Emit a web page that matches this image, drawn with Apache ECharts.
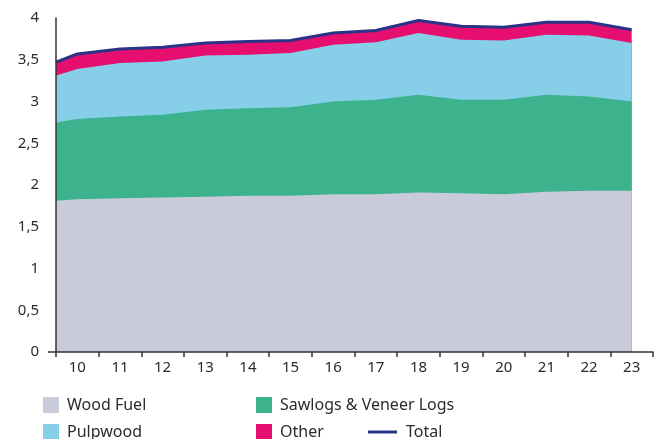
<!DOCTYPE html>
<html>
<head>
<meta charset="utf-8">
<script src="https://cdn.jsdelivr.net/npm/echarts@6/dist/echarts.min.js"></script>
<style>
  html, body { margin: 0; padding: 0; background: #ffffff; }
  #chart { width: 667px; height: 439px; }
</style>
</head>
<body>
<div id="chart"></div>
<script>
// Year labels on the axis (20xx), drawn between tick marks
const yearLabels = ['10', '11', '12', '13', '14', '15', '16', '17', '18', '19', '20', '21', '22', '23'];
// Position of each data point along the year scale; the first point sits at the left edge of the plot
const xPos = [9.5, 10, 11, 12, 13, 14, 15, 16, 17, 18, 19, 20, 21, 22, 23];

// Removals by assortment (billion m³)
const woodFuel = [1.81, 1.83, 1.84, 1.85, 1.86, 1.87, 1.87, 1.89, 1.89, 1.91, 1.90, 1.89, 1.92, 1.93, 1.93];
const sawlogs  = [0.94, 0.96, 0.98, 0.99, 1.04, 1.05, 1.06, 1.11, 1.13, 1.17, 1.12, 1.13, 1.16, 1.13, 1.07];
const pulpwood = [0.56, 0.60, 0.64, 0.64, 0.65, 0.64, 0.65, 0.68, 0.69, 0.74, 0.72, 0.71, 0.72, 0.73, 0.70];
const other    = [0.16, 0.18, 0.17, 0.17, 0.15, 0.16, 0.15, 0.14, 0.14, 0.15, 0.16, 0.16, 0.15, 0.16, 0.16];

const yTicks = { min: 0, max: 4, interval: 0.5 };

// Running sums: each layer is filled from zero up to its cumulative top,
// and the lower layers are painted over the upper ones.
const addArrays = (a, b) => a.map((v, i) => +(v + b[i]).toFixed(2));
const cumWood  = woodFuel.slice();
const cumSaw   = addArrays(cumWood, sawlogs);
const cumPulp  = addArrays(cumSaw, pulpwood);
const cumOther = addArrays(cumPulp, other);
const total = cumOther;

const pairs = arr => arr.map((v, i) => [xPos[i], v]);

const FONT = 'Noto Sans';
const TEXT = '#2b2b2b';
const colors = {
  wood: '#c9cbdb',
  saw: '#3cb28d',
  pulp: '#87cfe9',
  other: '#e60f70',
  total: '#2a3388'
};

function areaSeries(name, data, color, z) {
  return {
    name, type: 'line', xAxisIndex: 1, z,
    data: pairs(data), symbol: 'none', smooth: false,
    lineStyle: { width: 0, color },
    itemStyle: { color },
    areaStyle: { color, opacity: 1, origin: 'start' },
    emphasis: { disabled: true }
  };
}

const legendBase = {
  icon: 'rect', itemWidth: 16, itemHeight: 16, itemGap: 0,
  textStyle: { fontFamily: FONT, fontSize: 16, color: TEXT, padding: [0, 0, 0, 3] },
  selectedMode: false, padding: 0
};

const chart = echarts.init(document.getElementById('chart'), null, { renderer: 'canvas' });
chart.setOption({
  animation: false,
  backgroundColor: '#ffffff',
  grid: { left: 56, right: 14, top: 18, bottom: 87, containLabel: false },
  legend: [
    Object.assign({}, legendBase, { left: 43, top: 397, data: ['Wood Fuel'] }),
    Object.assign({}, legendBase, { left: 256, top: 397, data: ['Sawlogs & Veneer Logs'] }),
    Object.assign({}, legendBase, { left: 43, top: 424, data: ['Pulpwood'] }),
    Object.assign({}, legendBase, { left: 256, top: 424, data: ['Other'] }),
    Object.assign({}, legendBase, { left: 368, top: 424, itemWidth: 29, itemHeight: 3,
      textStyle: Object.assign({}, legendBase.textStyle, { padding: [0, 0, 0, 4] }),
      data: [{ name: 'Total', icon: 'rect', itemStyle: { color: colors.total } }] })
  ],
  xAxis: [
    {
      type: 'category', data: yearLabels, boundaryGap: true, position: 'bottom',
      axisLine: { show: true, lineStyle: { color: '#333', width: 1.5 } },
      axisTick: { show: true, length: 5, lineStyle: { color: '#333', width: 1.5 } },
      axisLabel: { fontFamily: FONT, fontSize: 15, color: TEXT, margin: 8 },
      splitLine: { show: false },
      z: 10
    },
    { type: 'value', min: 9.5, max: 23.5, show: false }
  ],
  yAxis: {
    type: 'value', min: yTicks.min, max: yTicks.max, interval: yTicks.interval,
    axisLine: { show: true, lineStyle: { color: '#333', width: 1.5 } },
    axisTick: { show: false },
    splitLine: { show: false },
    axisLabel: {
      fontFamily: FONT, fontSize: 15, color: TEXT, margin: 17,
      formatter: v => String(v).replace('.', ',')
    },
    z: 10
  },
  graphic: [
    { type: 'line', shape: { x1: 48, y1: 352, x2: 56, y2: 352 }, style: { stroke: '#333', lineWidth: 1.5 } }
  ],
  series: [
    areaSeries('Other', cumOther, colors.other, 2),
    areaSeries('Pulpwood', cumPulp, colors.pulp, 3),
    areaSeries('Sawlogs & Veneer Logs', cumSaw, colors.saw, 4),
    areaSeries('Wood Fuel', cumWood, colors.wood, 5),
    {
      name: 'Total', type: 'line', xAxisIndex: 1, data: pairs(total),
      symbol: 'none', z: 6,
      lineStyle: { color: colors.total, width: 3 },
      itemStyle: { color: colors.total },
      emphasis: { disabled: true }
    }
  ]
});
</script>
</body>
</html>
